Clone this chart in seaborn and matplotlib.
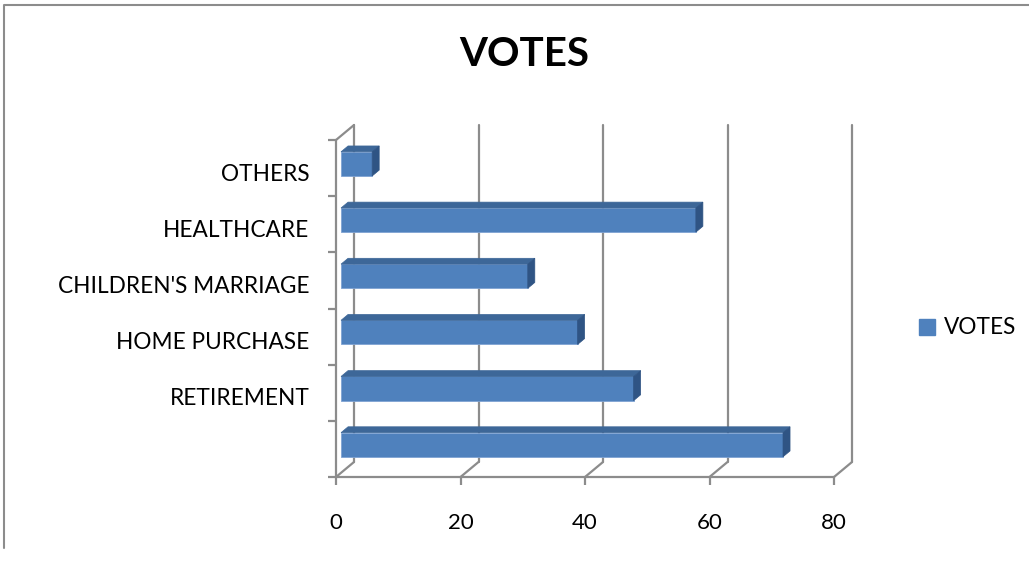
import numpy as np
import pandas as pd
import matplotlib
matplotlib.use("Agg")
import matplotlib.pyplot as plt
import matplotlib.transforms as mtransforms
from matplotlib.patches import Polygon, Patch
from matplotlib.lines import Line2D
import seaborn as sns

# ---- data ----
categories = ["OTHERS", "HEALTHCARE", "CHILDREN'S MARRIAGE", "HOME PURCHASE", "RETIREMENT", ""]
votes = [5, 57, 30, 38, 47, 71]
x_ticks = [0, 20, 40, 60, 80]
series_name = "VOTES"
title = "VOTES"

sns.set_theme(style="white")
plt.rcParams['font.family'] = ['Lato', 'DejaVu Sans']
plt.rcParams['text.color'] = 'black'

DPI = 100
fig = plt.figure(figsize=(10.29, 5.65), dpi=DPI)
W, H = 1029, 565
ax = fig.add_axes([336 / W, (H - 477) / H, 498 / W, 337 / H])

df = pd.DataFrame({"cat": categories, "votes": votes})
BAR_COLOR = "#4F81BD"
TOP_COLOR = "#3D6798"
SIDE_COLOR = "#2F5484"
GRID = "#8C8C8C"

sns.barplot(data=df, x="votes", y="cat", orient="h", order=categories,
            color=BAR_COLOR, saturation=1, width=0.43, ax=ax, zorder=3,
            edgecolor="#7FA3D3", linewidth=0.6)

ax.set_xlim(0, 80)
ax.set_ylim(len(categories) - 0.5, -0.5)
ax.set_xlabel("")
ax.set_ylabel("")
for s in ax.spines.values():
    s.set_visible(False)

# depth offsets (pixels)
BACK = (18, 15)
F0, F1 = 0.28, 0.67  # bar front / back depth fractions


def off(fx):
    return mtransforms.ScaledTranslation(BACK[0] * fx / DPI, BACK[1] * fx / DPI, fig.dpi_scale_trans)

# shift bar front faces to their depth
for p in ax.patches:
    p.set_transform(ax.transData + off(F0))

fig.canvas.draw()

# back wall gridlines + floor diagonals
ymin_b, ymax_t = len(categories) - 0.5, -0.5
for xv in x_ticks:
    ax.plot([xv, xv], [ymin_b, ymax_t], color=GRID, lw=1.6, transform=ax.transData + off(1.0),
            clip_on=False, zorder=1)
    (x0, y0) = ax.transData.transform((xv, ymin_b))
    ax.add_artist(Line2D([x0, x0 + BACK[0]], [y0, y0 + BACK[1]], color=GRID, lw=1.6,
                         transform=None, zorder=1, clip_on=False))
# left wall top diagonal
(x0, y0) = ax.transData.transform((0, ymax_t))
ax.add_artist(Line2D([x0, x0 + BACK[0]], [y0, y0 + BACK[1]], color=GRID, lw=1.6, transform=None,
                     zorder=1, clip_on=False))
# front axes lines
ax.plot([0, 0], [ymin_b, ymax_t], color=GRID, lw=1.6, clip_on=False, zorder=2)
ax.plot([0, 80], [ymin_b, ymin_b], color=GRID, lw=1.6, clip_on=False, zorder=2)

# 3D faces of bars
for p in list(ax.patches):
    x = p.get_x(); w = p.get_width(); y = p.get_y(); h = p.get_height()
    ytop = min(y, y + h)
    ybot = max(y, y + h)
    fx, fy = BACK[0] * F0, BACK[1] * F0
    bx, by = BACK[0] * F1, BACK[1] * F1
    a = ax.transData.transform((x, ytop))
    b = ax.transData.transform((x + w, ytop))
    c = ax.transData.transform((x + w, ybot))
    top = [(a[0] + fx, a[1] + fy), (b[0] + fx, b[1] + fy), (b[0] + bx, b[1] + by), (a[0] + bx, a[1] + by)]
    side = [(b[0] + fx, b[1] + fy), (c[0] + fx, c[1] + fy), (c[0] + bx, c[1] + by), (b[0] + bx, b[1] + by)]
    ax.add_artist(Polygon(top, closed=True, facecolor=TOP_COLOR, edgecolor=TOP_COLOR, lw=0.5,
                          transform=None, zorder=4, clip_on=False))
    ax.add_artist(Polygon(side, closed=True, facecolor=SIDE_COLOR, edgecolor=SIDE_COLOR, lw=0.5,
                          transform=None, zorder=4, clip_on=False))

# ticks
ax.set_xticks(x_ticks)
ax.set_xticklabels([str(v) for v in x_ticks])
ax.tick_params(axis="x", which="major", length=6, width=1.6, color=GRID, bottom=True,
               labelsize=16, pad=20, labelcolor="#000000")
ax.set_yticks(range(len(categories)))
ax.set_yticklabels(categories)
ax.set_yticks(np.arange(-0.5, len(categories), 1.0), minor=True)
ax.tick_params(axis="y", which="major", length=0, labelsize=16.3, pad=19, labelcolor="#000000")
ax.tick_params(axis="y", which="minor", length=6, width=1.6, color=GRID, left=True)
for lab in ax.get_yticklabels():
    lab.set_transform(lab.get_transform() + mtransforms.ScaledTranslation(0, -4 / DPI, fig.dpi_scale_trans))

# title
fig.text(524 / W, 1 - 55 / H, title, ha="center", va="center", fontsize=29, fontweight="bold",
         color="black")

# legend
leg = fig.legend(handles=[Patch(facecolor=BAR_COLOR, edgecolor=BAR_COLOR, label=series_name)],
                 loc="center left", bbox_to_anchor=(899 / W, 1 - 328 / H), frameon=False,
                 fontsize=16.3, handlelength=0.7, handleheight=0.7, handletextpad=0.4)
for t in leg.get_texts():
    t.set_color("black")

# outer frame
fig.add_artist(Line2D([4 / W, 4 / W, 1.0], [1 - 548 / H, 1 - 5 / H, 1 - 5 / H],
                      color="#8C8C8C", lw=1.5, transform=fig.transFigure))

fig.savefig("out.png", dpi=DPI)
